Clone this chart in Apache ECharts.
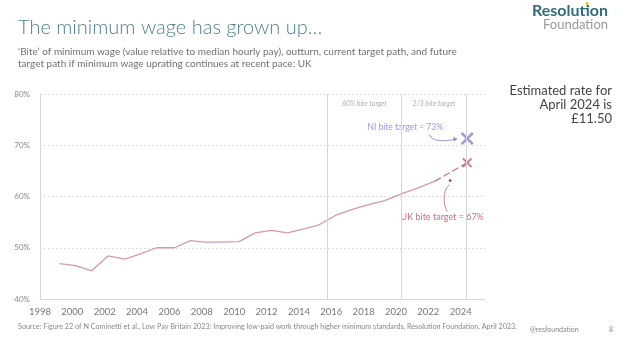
<!DOCTYPE html>
<html>
<head>
<meta charset="utf-8">
<script src="https://cdn.jsdelivr.net/npm/echarts@6/dist/echarts.min.js"></script>
<style>
  html, body { margin: 0; padding: 0; background: #fff; }
  #chart { width: 625px; height: 345px; }
</style>
</head>
<body>
<div id="chart"></div>
<script>
// outturn, measured each April
const outturnYears = [1999.2, 2000.2, 2001.2, 2002.2, 2003.25, 2004.2, 2005.2, 2006.3, 2007.3, 2008.2, 2009.2, 2010.3, 2011.3, 2012.3, 2013.3, 2014.3, 2015.2, 2016.25, 2017.3, 2018.3, 2019.3, 2020.4, 2021.3, 2022.4]
const outturnBite = [46.9, 46.5, 45.5, 48.4, 47.8, 48.8, 50.0, 50.0, 51.4, 51.1, 51.1, 51.2, 52.9, 53.4, 52.9, 53.7, 54.4, 56.3, 57.5, 58.4, 59.2, 60.6, 61.6, 63.0]
// target path to April 2024
const pathYears = [2022.4, 2024.4]
const pathBite = [63.0, 66.6]
const ukTarget = [2024.4, 66.6]
const niTarget = [2024.4, 71.3]
const ukDot = [2023.35, 63.1]
// vertical policy markers
const targetLines = [2015.75, 2020.35, 2024.35]
const targetLabels = ['60% bite target', '2/3 bite target']
const yearTicks = { min: 1998, max: 2025.5, step: 2 }
const biteTicks = { min: 40, max: 80, step: 10 }

const FONT = 'Lato, "Noto Sans", sans-serif'
const CROSS = 'path://M0,1.4L1.4,0L5,3.6L8.6,0L10,1.4L6.4,5L10,8.6L8.6,10L5,6.4L1.4,10L0,8.6L3.6,5Z'

const chart = echarts.init(document.getElementById('chart'))

const option = {
  animation: false,
  backgroundColor: '#fff',
  textStyle: { fontFamily: FONT },
  grid: { left: 40, right: 140, top: 94, bottom: 46 },
  xAxis: {
    type: 'value',
    min: yearTicks.min,
    max: yearTicks.max,
    interval: yearTicks.step,
    axisLine: { lineStyle: { color: '#d8d8d8' } },
    axisTick: { show: false },
    splitLine: { show: false },
    axisLabel: { color: '#777', fontSize: 9.5, fontFamily: FONT, showMaxLabel: false, margin: 8, formatter: v => String(v) }
  },
  yAxis: {
    type: 'value',
    min: biteTicks.min,
    max: biteTicks.max,
    interval: biteTicks.step,
    axisLine: { show: true, lineStyle: { color: '#d8d8d8' } },
    axisTick: { show: false },
    splitLine: { lineStyle: { color: '#d4d4d4', type: [1.5, 2.5] } },
    axisLabel: { color: '#888', fontSize: 8, fontFamily: FONT, formatter: '{value}%', margin: 10 }
  },
  series: [
    {
      type: 'line',
      data: outturnYears.map((y, i) => [y, outturnBite[i]]),
      symbol: 'none',
      lineStyle: { color: '#d49aab', width: 1.3 },
      markLine: {
        silent: true,
        symbol: 'none',
        label: { show: false },
        lineStyle: { color: '#d6d6d6', type: 'solid', width: 1 },
        data: targetLines.map(x => ({ xAxis: x }))
      },
      z: 3
    },
    {
      type: 'line',
      data: pathYears.map((y, i) => [y, pathBite[i]]),
      symbol: 'none',
      lineStyle: { color: '#c26d84', width: 1.2, type: [7, 3] },
      z: 3
    },
    {
      type: 'scatter',
      data: [ukTarget],
      symbol: CROSS,
      symbolSize: 10,
      itemStyle: { color: '#c9596f' },
      z: 4
    },
    {
      type: 'scatter',
      data: [niTarget],
      symbol: CROSS,
      symbolSize: 13,
      itemStyle: { color: '#8783d4' },
      z: 4
    },
    {
      type: 'scatter',
      data: [ukDot],
      symbol: 'circle',
      symbolSize: 3,
      itemStyle: { color: '#8e2f47' },
      z: 4
    }
  ],
  graphic: [
    { type: 'text', left: 18, top: 18, style: { text: 'The minimum wage has grown up…', fill: '#4f7f8c', font: '300 20px ' + FONT } },
    { type: 'text', left: 18, top: 46, style: { text: '\u2018Bite\u2019 of minimum wage (value relative to median hourly pay), outturn, current target path, and future\ntarget path if minimum wage uprating continues at recent pace: UK', fill: '#707070', font: '10px ' + FONT, lineHeight: 12 } },
    { type: 'text', x: 608, y: 3, style: { text: 'Resolution', fill: '#2f6d7c', font: 'bold 16px ' + FONT, align: 'right' } },
    { type: 'circle', x: 587, y: 3.5, shape: { r: 1.6 }, style: { fill: '#f1c40f' } },
    { type: 'text', x: 608, y: 18, style: { text: 'Foundation', fill: '#9a9a9a', font: '13px ' + FONT, align: 'right' } },
    { type: 'text', x: 612, y: 84, style: { text: 'Estimated rate for\nApril 2024 is\n£11.50', fill: '#444', font: '13px ' + FONT, align: 'right', lineHeight: 14 } },
    { type: 'text', left: 18, top: 323, style: { text: 'Source: Figure 22 of N Cominetti et al., Low Pay Britain 2023: Improving low-paid work through higher minimum standards, Resolution Foundation, April 2023.', fill: '#888', font: '7.2px ' + FONT } },
    { type: 'text', left: 530, top: 326, style: { text: '@resfoundation', fill: '#888', font: '7px ' + FONT } },
    { type: 'text', left: 609, top: 326, style: { text: '8', fill: '#888', font: '7px ' + FONT } }
  ]
}

chart.setOption(option)

// annotations placed through the axes
const px = (x, y) => chart.convertToPixel({ gridIndex: 0 }, [x, y])
const l1 = px(targetLines[0], 80)
const l2 = px(targetLines[1], 80)
const l3 = px(targetLines[2], 80)
const ni = px(niTarget[0], niTarget[1])
const dot = px(ukDot[0], ukDot[1])
const extra = [
  { type: 'text', x: (l1[0] + l2[0]) / 2, y: l1[1] + 6, style: { text: targetLabels[0], fill: '#b0b0b0', font: 'italic 7px ' + FONT, align: 'center' } },
  { type: 'text', x: (l2[0] + l3[0]) / 2, y: l1[1] + 6, style: { text: targetLabels[1], fill: '#b0b0b0', font: 'italic 7px ' + FONT, align: 'center' } },
  { type: 'text', x: ni[0] - 62, y: ni[1] - 16, style: { text: 'NI bite target = 73%', fill: '#9c99d6', font: '8.5px ' + FONT, align: 'center' } },
  { type: 'bezierCurve', z: 50, shape: { x1: ni[0] - 38, y1: ni[1] - 4, cpx1: ni[0] - 35, cpy1: ni[1] + 3, cpx2: ni[0] - 24, cpy2: ni[1] + 3, x2: ni[0] - 13, y2: ni[1] + 1 }, style: { stroke: '#8f8bd2', lineWidth: 0.9 } },
  { type: 'polygon', z: 50, shape: { points: [[ni[0] - 9.5, ni[1] + 0.5], [ni[0] - 14, ni[1] - 1.5], [ni[0] - 13.3, ni[1] + 2.8]] }, style: { fill: '#8f8bd2' } },
  { type: 'bezierCurve', z: 50, shape: { x1: dot[0] - 1, y1: dot[1] + 4, cpx1: dot[0] - 8, cpy1: dot[1] + 11, cpx2: dot[0] - 7, cpy2: dot[1] + 24, x2: dot[0] - 3, y2: dot[1] + 31 }, style: { stroke: '#c07890', lineWidth: 0.9 } },
  { type: 'text', x: dot[0] - 8, y: dot[1] + 32, style: { text: 'UK bite target = 67%', fill: '#c9708a', font: '9px ' + FONT, align: 'center' } }
]
chart.setOption({ graphic: option.graphic.concat(extra) })
</script>
</body>
</html>
